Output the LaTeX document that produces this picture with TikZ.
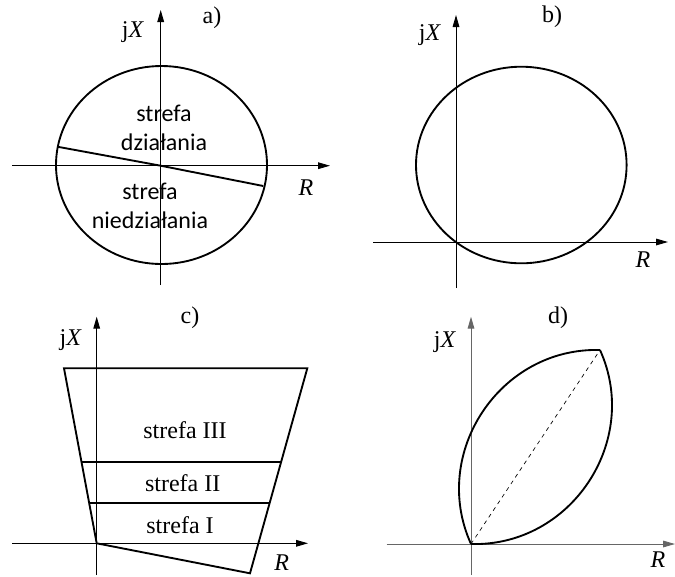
\documentclass[tikz,border=0pt]{standalone}
\usepackage{fontspec}
\setmainfont{Liberation Serif}
\newfontfamily\zonefont{Carlito}
\usetikzlibrary{arrows.meta, calc}

\begin{document}
\begin{tikzpicture}[
    x=0.75pt, y=-0.75pt,
    axis/.style={line width=0.7pt, -{Triangle[length=9pt, width=5pt]}},
    curve/.style={line width=1.4pt},
    lbl/.style={font=\fontsize{18}{20}\selectfont, inner sep=0pt},
    zone/.style={lbl, font=\zonefont\fontsize{18}{22}\selectfont, align=center}
]
    \useasboundingbox (0,0) rectangle (675,576);

    % a) -- ellipse split by a line through the origin
    \coordinate (Oa) at (160.7,165.7);
    \draw[axis] (160.7,285) -- (160.7,10);
    \draw[axis] (12,165.7) -- (330,165.7);
    \draw[curve] (161.5,165) ellipse [x radius=105.5, y radius=99];
    \draw[curve] (57.3,146.7) -- (Oa) -- (263.3,186);
    \node[zone] (work) at (164,128) {strefa\\działania};
    \node[zone] (idle) at (150,206) {strefa\\niedziałania};
    \node[lbl] (jXa) at (133,32) {j\textit{X}};
    \node[lbl] (capa) at (212,18) {a)};
    \node[lbl] (Ra) at (306,188) {\textit{R}};

    % b) -- circle through the origin
    \coordinate (Ob) at (456,242);
    \draw[axis] (456,288) -- (456,15);
    \draw[axis] (373,242) -- (668,242);
    \draw[curve] (521.3,165) ellipse [x radius=105.3, y radius=98.3];
    \node[lbl] (jXb) at (430,35) {j\textit{X}};
    \node[lbl] (capb) at (552,17) {b)};
    \node[lbl] (Rb) at (643,260) {\textit{R}};

    % c) -- trapezoid with three zones
    \coordinate (Oc) at (96.7,543.3);
    \coordinate (tl) at (64,368.3);
    \coordinate (tr) at (307.3,368.3);
    \coordinate (br) at (250,573.3);
    \draw[axis] (96.7,575) -- (96.7,316.7);
    \draw[axis] (12,543.3) -- (308,543.3);
    \draw[curve, line join=miter] (Oc) -- (tl) -- (tr) -- (br) -- cycle;
    \draw[curve] (81.4,461.7) -- (281.4,461.7);
    \draw[curve] (89.2,503.3) -- (269.5,503.3);
    \node[lbl] (z3) at (185,430) {strefa III};
    \node[lbl] (z2) at (182.7,483.3) {strefa II};
    \node[lbl] (z1) at (180,525) {strefa I};
    \node[lbl] (jXc) at (70.7,340) {j\textit{X}};
    \node[lbl] (capc) at (190,318) {c)};
    \node[lbl] (Rc) at (281.7,563) {\textit{R}};

    % d) -- lens between two arcs
    \coordinate (Od) at (471,544);
    \coordinate (top) at (600,350);
    \draw[axis, gray!80!black] (471,575) -- (471,316.7);
    \draw[axis, gray!80!black] (386.7,544) -- (675,544);
    \draw[curve] (Od) to[bend left=58, looseness=1.1] (top);
    \draw[curve] (Od) to[bend right=58, looseness=1.1] (top);
    \draw[dashed, line width=0.5pt] (Od) -- (top);
    \node[lbl] (jXd) at (445,342) {j\textit{X}};
    \node[lbl] (capd) at (558,318) {d)};
    \node[lbl] (Rd) at (658,560) {\textit{R}};
\end{tikzpicture}
\end{document}
